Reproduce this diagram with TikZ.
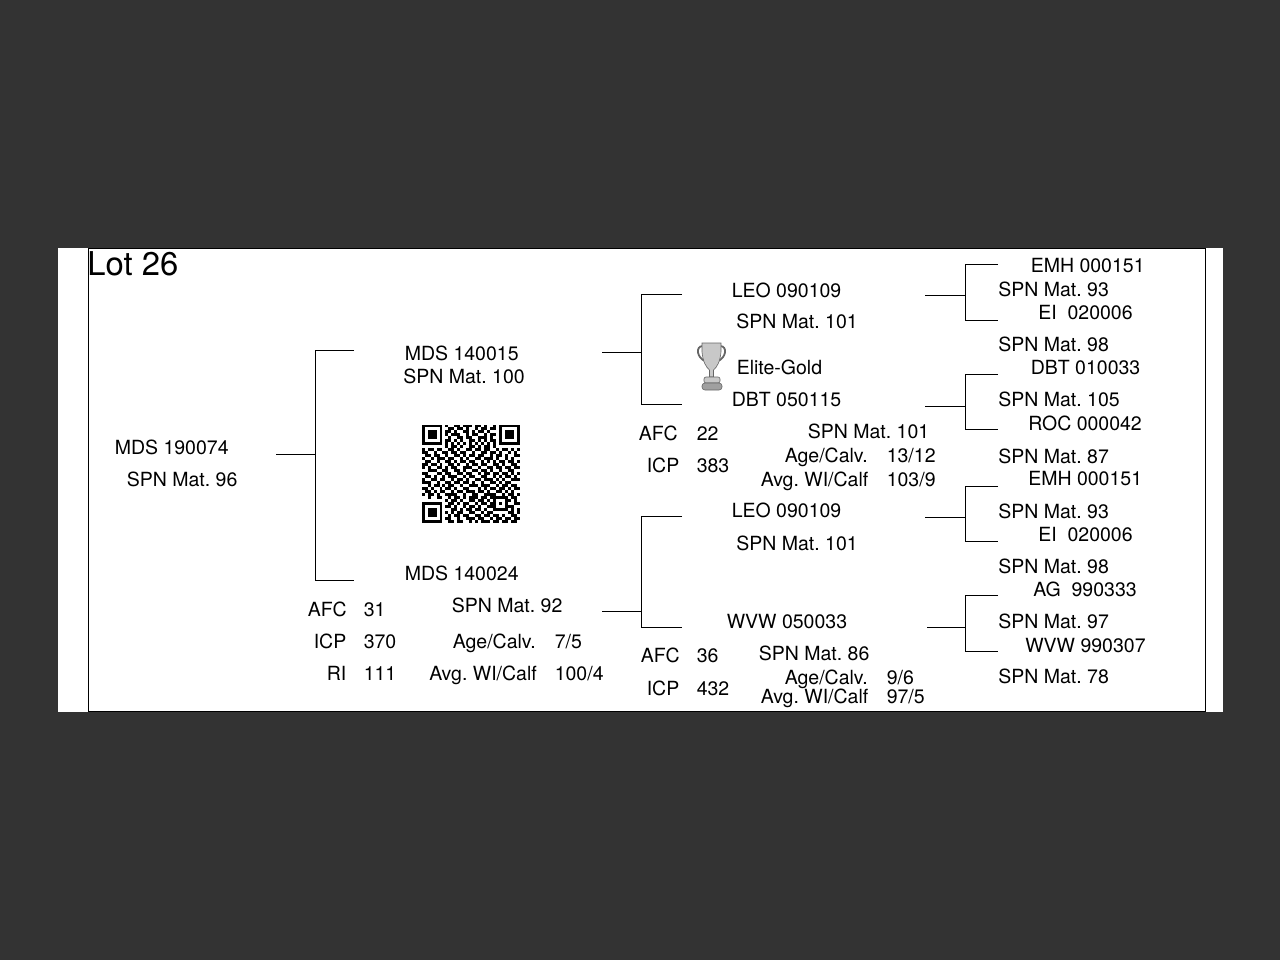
\documentclass[tikz,border=0pt]{standalone}
\usepackage{fontspec}
\setmainfont{TeX Gyre Heros}
\frenchspacing
\definecolor{pagegrey}{HTML}{333333}
\definecolor{cupgrey}{HTML}{C8C8C8}
\definecolor{cupedge}{HTML}{666666}
\newcommand{\qrbits}[1]{\def\qrcol{0}\qrnext#1\relax}
\def\qrnext#1{\ifx#1\relax\else\if#11\fill (421.7+\qrcol*2.97,424.5+\qrrow*2.97) rectangle ++(2.97,2.97);\fi\pgfmathtruncatemacro\qrcol{\qrcol+1}\expandafter\qrnext\fi}
\begin{document}
\begin{tikzpicture}[x=0.5pt, y=-0.5pt,
    txt/.style={anchor=base west, inner sep=0pt, xshift=-0.3pt, font=\fontsize{9.75}{11.6}\selectfont},
    lot/.style={anchor=base west, inner sep=0pt, font=\fontsize{16.4}{19}\selectfont},
    conn/.style={draw=black, line width=0.5pt}
  ]
    \useasboundingbox (0,0) rectangle (1280,960);
    % -- Page and sheet
    \fill[pagegrey] (0,0) rectangle (1280,960);
    \fill[white] (58,248) rectangle (1223,712);
    \draw[conn] (88.5,248.5) rectangle (1205.5,711.5);

    \node[lot] (lot) at (87,275) {Lot 26};

    % -- Animal
    \node[txt] (an) at (115,454) {MDS 190074};
    \node[txt] (anspn) at (127,486) {SPN Mat. 96};

    % -- Parents
    \node[txt] (sire) at (405,360) {MDS 140015};
    \node[txt] (sirespn) at (403.5,383) {SPN Mat. 100};
    \node[txt] (dam) at (405,580) {MDS 140024};
    \node[txt] (damafc) at (308,616) {AFC};
    \node[txt] (damafcv) at (364,616) {31};
    \node[txt] (damicp) at (314,648) {ICP};
    \node[txt] (damicpv) at (364,648) {370};
    \node[txt] (damri) at (327,680) {RI};
    \node[txt] (damriv) at (364,680) {111};
    \node[txt] (damspn) at (452,612) {SPN Mat. 92};
    \node[txt] (damage) at (453,648) {Age/Calv.};
    \node[txt] (damagev) at (555,648) {7/5};
    \node[txt] (damavg) at (429.5,680) {Avg. WI/Calf};
    \node[txt] (damavgv) at (555,680) {100/4};

    % -- Grandparents, upper
    \node[txt] (gs1) at (732,297) {LEO 090109};
    \node[txt] (gs1spn) at (736.5,328) {SPN Mat. 101};
    \node[txt] (elite) at (737,374) {Elite-Gold};
    \node[txt] (gd1) at (732,406) {DBT 050115};
    \node[txt] (gd1afc) at (639,440) {AFC};
    \node[txt] (gd1afcv) at (697,440) {22};
    \node[txt] (gd1icp) at (647,472) {ICP};
    \node[txt] (gd1icpv) at (697,472) {383};
    \node[txt] (gd1spn) at (808,438) {SPN Mat. 101};
    \node[txt] (gd1age) at (785,462) {Age/Calv.};
    \node[txt] (gd1agev) at (887,462) {13/12};
    \node[txt] (gd1avg) at (761,486) {Avg. WI/Calf};
    \node[txt] (gd1avgv) at (887,486) {103/9};

    % -- Grandparents, lower
    \node[txt] (gs2) at (732,517) {LEO 090109};
    \node[txt] (gs2spn) at (736.5,550) {SPN Mat. 101};
    \node[txt] (gd2) at (727,628) {WVW 050033};
    \node[txt] (gd2afc) at (641,662) {AFC};
    \node[txt] (gd2afcv) at (697,662) {36};
    \node[txt] (gd2icp) at (647,695) {ICP};
    \node[txt] (gd2icpv) at (697,695) {432};
    \node[txt] (gd2spn) at (759,660) {SPN Mat. 86};
    \node[txt] (gd2age) at (785,684) {Age/Calv.};
    \node[txt] (gd2agev) at (887,684) {9/6};
    \node[txt] (gd2avg) at (761,703) {Avg. WI/Calf};
    \node[txt] (gd2avgv) at (887,703) {97/5};

    % -- Great-grandparents
    \node[txt] (g1) at (1031,272) {EMH 000151};
    \node[txt] (g1spn) at (998.5,296) {SPN Mat. 93};
    \node[txt] (g2) at (1038.5,319) {EI\ \ 020006};
    \node[txt] (g2spn) at (998.5,351) {SPN Mat. 98};
    \node[txt] (g3) at (1031,374) {DBT 010033};
    \node[txt] (g3spn) at (998.5,406) {SPN Mat. 105};
    \node[txt] (g4) at (1028.5,430) {ROC 000042};
    \node[txt] (g4spn) at (998.5,463) {SPN Mat. 87};
    \node[txt] (g5) at (1028.5,485) {EMH 000151};
    \node[txt] (g5spn) at (998.5,518) {SPN Mat. 93};
    \node[txt] (g6) at (1038.5,541) {EI\ \ 020006};
    \node[txt] (g6spn) at (998.5,573) {SPN Mat. 98};
    \node[txt] (g7) at (1033.5,596) {AG\ \ 990333};
    \node[txt] (g7spn) at (998.5,628) {SPN Mat. 97};
    \node[txt] (g8) at (1025.5,652) {WVW 990307};
    \node[txt] (g8spn) at (998.5,683) {SPN Mat. 78};

    % -- Brackets
    \foreach \n/\ax/\ay/\bx/\uy/\dy/\ex in {1/276/454.5/315.5/350.5/580.5/354,
        2/602/352.5/641.5/294.5/404.5/682, 3/602/611.5/641.5/516.5/627.5/682,
        4/925/295.5/965.5/264/320.5/998, 5/925/406.5/965.5/374.5/429.5/998,
        6/925/517.5/965.5/486.5/541.5/998, 7/927/627.5/965.5/595.5/651.5/998} {
      \coordinate (a\n) at (\ax,\ay);
      \coordinate (b\n) at (\bx,\ay);
      \coordinate (u\n) at (\ex,\uy);
      \coordinate (d\n) at (\ex,\dy);
      \draw[conn] (a\n) -- (b\n);
      \draw[conn] (u\n) -- (u\n -| b\n) -- (d\n -| b\n) -- (d\n);
    }

    % -- Trophy
    \draw[cupedge, line width=0.9pt] (703,346) .. controls (695,346) and (697,358) .. (705,361);
    \draw[cupedge, line width=0.9pt] (720,346) .. controls (728,346) and (726,358) .. (718,361);
    \fill[cupgrey, draw=cupedge, line width=0.3pt] (702,343) -- (721,343) -- (721,352)
      .. controls (720,362) and (717,367) .. (713.5,370) -- (713.5,377) -- (709.5,377) -- (709.5,370)
      .. controls (706,367) and (703,362) .. (702,352) -- cycle;
    \fill[cupgrey, draw=cupedge, line width=0.3pt, rounded corners=1pt] (704,377) rectangle (720,383);
    \fill[cupgrey!80!black, draw=cupedge, line width=0.3pt, rounded corners=1.5pt] (702,383) rectangle (722,390);

    % -- QR code
    \foreach \bits [count=\rr from 0] in {
      111111101001101110110100101111111,
      100000100110110100101101101000001,
      101110101101001101011010001011101,
      101110101011100101100101101011101,
      101110100100110110011101001011101,
      100000101101010011010101101000001,
      111111101010101010101010101111111,
      000000001011010011010110100000000,
      101101100110100110110110010110101,
      110010011011011001001101101001010,
      011011001001101011011001011010011,
      100101110110010100110111010010100,
      011001001101011011001010101101101,
      110110100110100101101100110100110,
      101001101011001110010011011011011,
      001110011001101001101101001001100,
      110001101100110110010110110110101,
      011010010111001011001100101011010,
      100110110010110100110111010100111,
      111001001101101101001001101011000,
      001011010110010011101110010110110,
      110100101101001100010101101101011,
      011010110010110111011010011010100,
      101101001111001001100111100101101,
      001001100101101011101101111110110,
      000000001011010011011010100011010,
      111111100110101100101101101010011,
      100000101101001011010011100011100,
      101110100011010110110100111110101,
      101110101010110011001011000001101,
      101110100101101100110110110100110,
      100000101100100111011001011011011,
      111111100110110010101110110110110} {
      \xdef\qrrow{\rr}
      \expandafter\qrbits\expandafter{\bits}
    }
\end{tikzpicture}
\end{document}
